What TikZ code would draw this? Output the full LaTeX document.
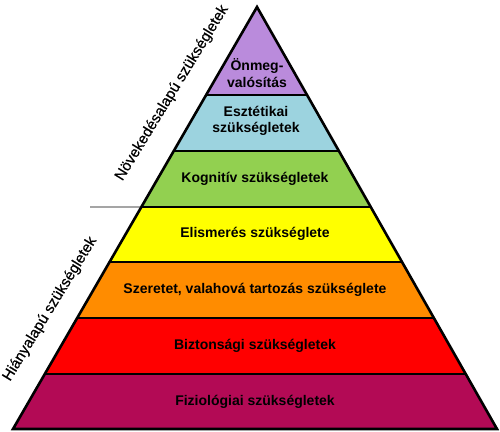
\documentclass[tikz,border=0pt]{standalone}
\usepackage{fontspec}
\setmainfont{Liberation Sans}
\newfontfamily\sidefont{Liberation Sans}[FakeBold=0.6]
\usetikzlibrary{calc}
\definecolor{cPurple}{HTML}{BA8BDC}
\definecolor{cBlue}{HTML}{9CD3DF}
\definecolor{cGreen}{HTML}{92D050}
\definecolor{cYellow}{HTML}{FFFF00}
\definecolor{cOrange}{HTML}{FF8C00}
\definecolor{cRed}{HTML}{FF0000}
\definecolor{cCrimson}{HTML}{B30A55}
\tikzset{
  lvltext/.style={font=\bfseries\fontsize{14}{16.5}\selectfont, align=center, text=black, inner sep=0pt},
  sidetext/.style={font=\sidefont\fontsize{15}{17}\selectfont, rotate=58.5, inner sep=0pt},
  border/.style={line width=2.6pt, line join=miter},
}
\begin{document}
\begin{tikzpicture}[x=1pt,y=1pt]
\useasboundingbox (0,0) rectangle (500,431);
\coordinate (A) at (257,424);
\coordinate (L) at (13,2);
\coordinate (R) at (497,2);
% boundary points
\foreach \n/\t in {1/0.1303,2/0.2630,3/0.3957,4/0.5261,5/0.6588,6/0.7915}{
  \coordinate (l\n) at ($(L)!\t!(A)$);
  \coordinate (r\n) at ($(R)!\t!(A)$);
}
\fill[cCrimson] (L) -- (R) -- (r1) -- (l1) -- cycle;
\fill[cRed] (l1) -- (r1) -- (r2) -- (l2) -- cycle;
\fill[cOrange] (l2) -- (r2) -- (r3) -- (l3) -- cycle;
\fill[cYellow] (l3) -- (r3) -- (r4) -- (l4) -- cycle;
\fill[cGreen] (l4) -- (r4) -- (r5) -- (l5) -- cycle;
\fill[cBlue] (l5) -- (r5) -- (r6) -- (l6) -- cycle;
\fill[cPurple] (l6) -- (r6) -- (A) -- cycle;
\foreach \n in {1,...,6}{\draw[border] (l\n) -- (r\n);}
\draw[border] (L) -- (R) -- (A) -- cycle;
% divider
\coordinate (d) at (90,224);
\draw[line width=0.8pt] (d) -- (l4);
% labels
\node[lvltext] (t1) at (255,29) {Fiziológiai szükségletek};
\node[lvltext] (t2) at (255,85) {Biztonsági szükségletek};
\node[lvltext] (t3) at (255,141) {Szeretet, valahová tartozás szükséglete};
\node[lvltext] (t4) at (255,197) {Elismerés szükséglete};
\node[lvltext] (t5) at (255,252) {Kognitív szükségletek};
\node[lvltext] (t6) at (256,310) {Esztétikai\\szükségletek};
\node[lvltext] (t7) at (257,358) {Önmeg-\\valósítás};
\node[sidetext] (s1) at (172,338) {Növekedésalapú szükségletek};
\node[sidetext] (s2) at (50,122) {Hiányalapú szükségletek};
\end{tikzpicture}
\end{document}
